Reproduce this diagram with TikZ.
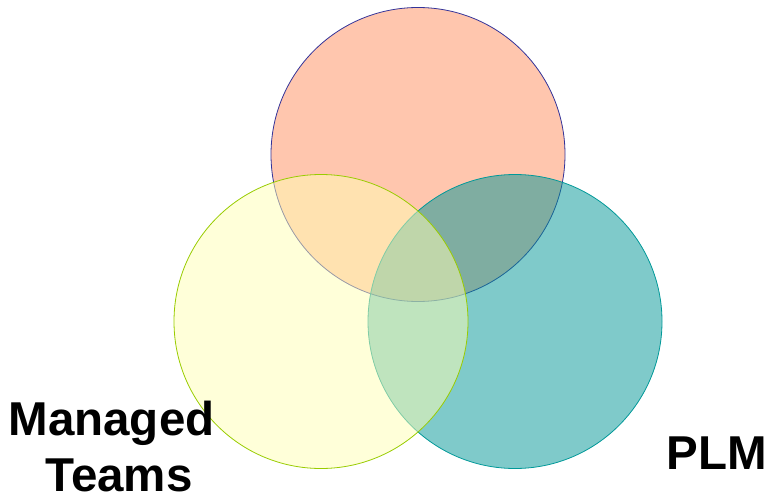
\documentclass[tikz,border=0pt]{standalone}
\usepackage{fontspec}
\setmainfont{Liberation Sans}
\definecolor{topfill}{HTML}{FFC6AE}
\definecolor{topline}{HTML}{333399}
\definecolor{rightfill}{HTML}{009595}
\definecolor{rightline}{HTML}{009999}
\definecolor{leftfill}{HTML}{FFFFB3}
\definecolor{leftline}{HTML}{99CC00}
\tikzset{
  venn/.style={circle, minimum size=294pt, inner sep=0pt, line width=0.8pt},
  lbl/.style={font=\fontsize{47.5}{57}\selectfont\bfseries, inner sep=0pt, anchor=base}
}
\begin{document}
\begin{tikzpicture}[x=1pt,y=-1pt]
\useasboundingbox (0,0) rectangle (770,500);
\node[venn, draw=topline, fill=topfill] (top) at (418,154.5) {};
\node[venn, draw=rightline, fill=rightfill, fill opacity=0.5, draw opacity=1] (right) at (515,321.5) {};
\node[venn, draw=leftline, fill=leftfill, fill opacity=0.5, draw opacity=1] (left) at (321,321.5) {};
\node[lbl] (mt1) at (111.5,435) {Managed};
\node[lbl] (mt2) at (119,491) {Teams};
\node[lbl] (plm) at (717,469) {PLM};
\end{tikzpicture}
\end{document}
